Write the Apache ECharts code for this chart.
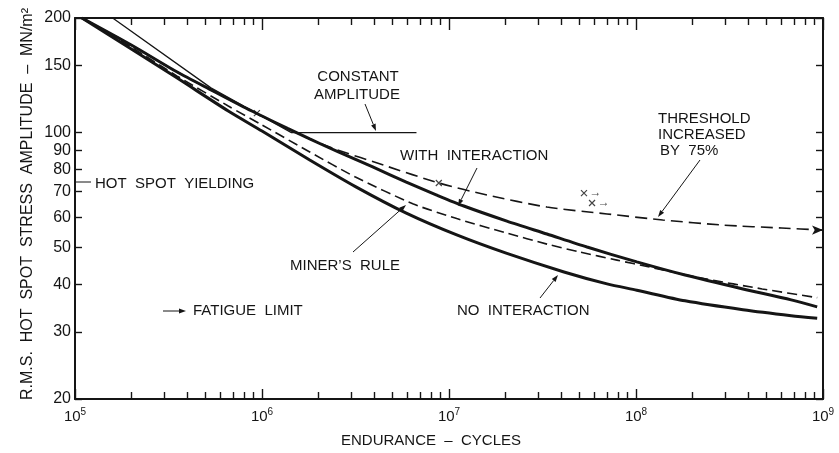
<!DOCTYPE html>
<html><head><meta charset="utf-8">
<script src="https://cdn.jsdelivr.net/npm/echarts@6/dist/echarts.min.js"></script>
<style>html,body{margin:0;padding:0;background:#fff}#c{width:839px;height:453px}</style>
</head><body><div id="c"></div>
<script>
// ---- tick values ----
const decadeTicks = [1e5, 1e6, 1e7, 1e8, 1e9];
const minorTicks = [2e5,3e5,4e5,5e5,6e5,7e5,8e5,9e5,
                    2e6,3e6,4e6,5e6,6e6,7e6,8e6,9e6,
                    2e7,3e7,4e7,5e7,6e7,7e7,8e7,9e7,
                    2e8,3e8,4e8,5e8,6e8,7e8,8e8,9e8];
const yTicks = [20, 30, 40, 50, 60, 70, 80, 90, 100, 150, 200];

// ---- curves (endurance cycles N, stress amplitude S in MN/m^2) ----
const withInteractionN = [1.09e5, 2.0e5, 3.52e5, 5.47e5, 7.97e5, 1.0e6, 1.37e6, 1.80e6, 2.56e6, 3.91e6, 5.91e6, 8.60e6, 1.20e7, 2.04e7, 3.34e7, 5.47e7, 1.01e8, 1.83e8, 3.73e8, 6.76e8, 9.31e8];
const withInteractionS = [200, 169.9, 144.3, 128.7, 116.8, 110.6, 102.6, 96.3, 89.0, 81.3, 74.2, 68.6, 64.2, 58.6, 54.2, 50.1, 45.8, 42.3, 38.9, 36.4, 34.9];

const noInteractionN = [1.09e5, 2.0e5, 3.52e5, 6.60e5, 1.0e6, 1.80e6, 3.16e6, 5.91e6, 1.10e7, 2.04e7, 4.12e7, 7.0e7, 1.01e8, 1.83e8, 3.73e8, 6.76e8, 9.31e8];
const noInteractionS = [200, 165.8, 139.1, 114.0, 101.0, 84.8, 72.2, 61.5, 53.9, 48.2, 43.1, 40.1, 38.6, 36.2, 34.3, 33.1, 32.6];

const minersN = [1.09e5, 2.0e5, 3.52e5, 6.60e5, 1.0e6, 1.80e6, 3.16e6, 6.45e6, 1.10e7, 2.04e7, 3.34e7, 5.02e7, 7.91e7, 1.18e8, 2.32e8, 4.73e8, 9.31e8];
const minersS = [200, 167.8, 140.8, 117.5, 104.8, 89.0, 76.5, 65.0, 59.5, 54.5, 51.0, 48.6, 46.3, 44.4, 41.4, 38.9, 36.9];

const thresholdN = [1.09e5, 2.0e5, 3.52e5, 5.47e5, 7.97e5, 1.0e6, 1.37e6, 1.80e6, 2.46e6, 4.60e6, 8.82e6, 1.60e7, 3.34e7, 7.0e7, 1.39e8, 2.94e8, 6.0e8, 1.0e9];
const thresholdS = [200, 169.9, 144.3, 128.7, 116.8, 110.6, 102.6, 96.3, 90.6, 81.8, 73.8, 68.6, 63.8, 61.2, 59.0, 57.2, 56.2, 55.5];

const constantN = [1.59e5, 5.33e5, 1.437e6, 6.70e6];
const constantS = [200, 131.1, 100, 100];

const testN = [9.39e5, 8.82e6];
const testS = [112.6, 73.8];
const runoutN = [5.27e7, 5.82e7];
const runoutS = [69.4, 65.4];

// ---- drawing ----
const ink = '#151515';
const FONT = '"Liberation Sans", Arial, sans-serif';
function pairs(a, b) { return a.map((v, i) => [v, b[i]]); }

const graphics = [];
function txt(s, x, y, align, size, rot) {
  graphics.push({ type: 'text', x: x, y: y, rotation: rot || 0, silent: true,
    style: { text: s, fill: ink, font: (size || 15) + 'px ' + FONT, align: align || 'left', verticalAlign: 'middle' } });
}
function leader(x1, y1, x2, y2, head) {
  const ang = Math.atan2(y2 - y1, x2 - x1);
  const L = 7, W = 2.4;
  const bx = x2 - L * Math.cos(ang), by = y2 - L * Math.sin(ang);
  const px = -Math.sin(ang) * W, py = Math.cos(ang) * W;
  graphics.push({ type: 'line', silent: true, shape: { x1: x1, y1: y1, x2: head === false ? x2 : bx, y2: head === false ? y2 : by },
    style: { stroke: ink, lineWidth: 1 } });
  if (head !== false) {
    graphics.push({ type: 'polygon', silent: true, shape: { points: [[x2, y2], [bx + px, by + py], [bx - px, by - py]] },
      style: { fill: ink } });
  }
}

txt('CONSTANT', 358, 77, 'center');
txt('AMPLITUDE', 357, 95, 'center');
leader(365, 104, 376, 131);
txt('WITH  INTERACTION', 400, 156);
leader(477, 168, 458, 206);
txt('THRESHOLD', 658, 119);
txt('INCREASED', 658, 135);
txt('BY  75%', 660, 151);
leader(700, 160, 658, 217);
txt('HOT  SPOT  YIELDING', 95, 184);
leader(76, 182, 91, 182, false);
txt('MINER\u2019S  RULE', 290, 266);
leader(353, 252, 406, 205);
txt('NO  INTERACTION', 457, 311);
leader(540, 298, 558, 275);
leader(163, 311, 186, 311);
txt('FATIGUE  LIMIT', 193, 311);
txt('R.M.S.  HOT  SPOT  STRESS  AMPLITUDE  \u2013  MN/m\u00B2', 28, 204, 'center', 16, Math.PI / 2);
txt('ENDURANCE  \u2013  CYCLES', 431, 441, 'center');

const axisLineStyle = { color: ink, width: 2 };
const tickStyle = { color: ink, width: 1.4 };
function xAx(pos, ticks, len, showLine, showLabel) {
  return {
    type: 'log', logBase: 10, min: 1e5, max: 1e9, position: pos,
    axisLine: { show: showLine, onZero: false, lineStyle: axisLineStyle },
    axisTick: { show: true, inside: true, length: len, customValues: ticks, lineStyle: tickStyle },
    axisLabel: showLabel ? {
      show: true, customValues: decadeTicks, margin: 8, showMinLabel: true, showMaxLabel: true,
      formatter: function (v) { return '{a|10}{b|' + Math.round(Math.log10(v)) + '}'; },
      rich: { a: { fontSize: 15, fontFamily: FONT, color: ink }, b: { fontSize: 10, fontFamily: FONT, color: ink, padding: [0, 0, 9, 0] } }
    } : { show: false },
    splitLine: { show: false }, minorTick: { show: false }
  };
}
function yAx(pos, showLabel) {
  return {
    type: 'log', logBase: 10, min: 20, max: 200, position: pos,
    axisLine: { show: true, onZero: false, lineStyle: axisLineStyle },
    axisTick: { show: true, inside: true, length: 7, customValues: yTicks, lineStyle: tickStyle },
    axisLabel: showLabel ? { show: true, customValues: yTicks, margin: 4, showMinLabel: true, showMaxLabel: true,
      fontSize: 16, fontFamily: FONT, color: ink } : { show: false },
    splitLine: { show: false }, minorTick: { show: false }
  };
}

const thresholdData = pairs(thresholdN, thresholdS).map((p, i, arr) =>
  i === arr.length - 1 ? { value: p, symbol: 'arrow', symbolSize: [7, 11], symbolRotate: -90 } : p);

const lineBase = { type: 'line', smooth: 0.25, symbol: 'none' };
const option = {
  animation: false,
  backgroundColor: '#fff',
  grid: { left: 75, top: 18, right: 16, bottom: 54 },
  xAxis: [
    xAx('bottom', decadeTicks, 10, true, true),
    xAx('bottom', minorTicks, 7, false, false),
    xAx('top', decadeTicks, 12, true, false),
    xAx('top', minorTicks, 7, false, false)
  ],
  yAxis: [yAx('left', true), yAx('right', false)],
  series: [
    Object.assign({ name: 'With interaction', data: pairs(withInteractionN, withInteractionS),
      lineStyle: { color: ink, width: 3 } }, lineBase),
    Object.assign({ name: 'No interaction', data: pairs(noInteractionN, noInteractionS),
      lineStyle: { color: ink, width: 3 } }, lineBase),
    Object.assign({ name: "Miner's rule", data: pairs(minersN, minersS),
      lineStyle: { color: ink, width: 1.6, type: [10, 5] } }, lineBase),
    Object.assign({ name: 'Threshold increased by 75%', data: thresholdData,
      itemStyle: { color: ink }, lineStyle: { color: ink, width: 1.6, type: [12, 6] } }, lineBase),
    { name: 'Constant amplitude', type: 'line', symbol: 'none', data: pairs(constantN, constantS),
      lineStyle: { color: ink, width: 1.3 } },
    { name: 'Tests', type: 'scatter', data: pairs(testN, testS), symbol: 'path://M0,0L10,10M10,0L0,10', symbolSize: 6,
      itemStyle: { color: 'rgba(0,0,0,0)', borderColor: ink, borderWidth: 1.2 } },
    { name: 'Run-outs', type: 'scatter', data: pairs(runoutN, runoutS), symbol: 'path://M0,0L10,10M10,0L0,10', symbolSize: 6,
      itemStyle: { color: 'rgba(0,0,0,0)', borderColor: ink, borderWidth: 1.2 },
      label: { show: true, formatter: '\u2192', position: 'right', distance: 2, fontSize: 12, color: ink, fontFamily: FONT } }
  ],
  graphic: graphics
};
const chart = echarts.init(document.getElementById('c'));
chart.setOption(option);
</script>
</body></html>
